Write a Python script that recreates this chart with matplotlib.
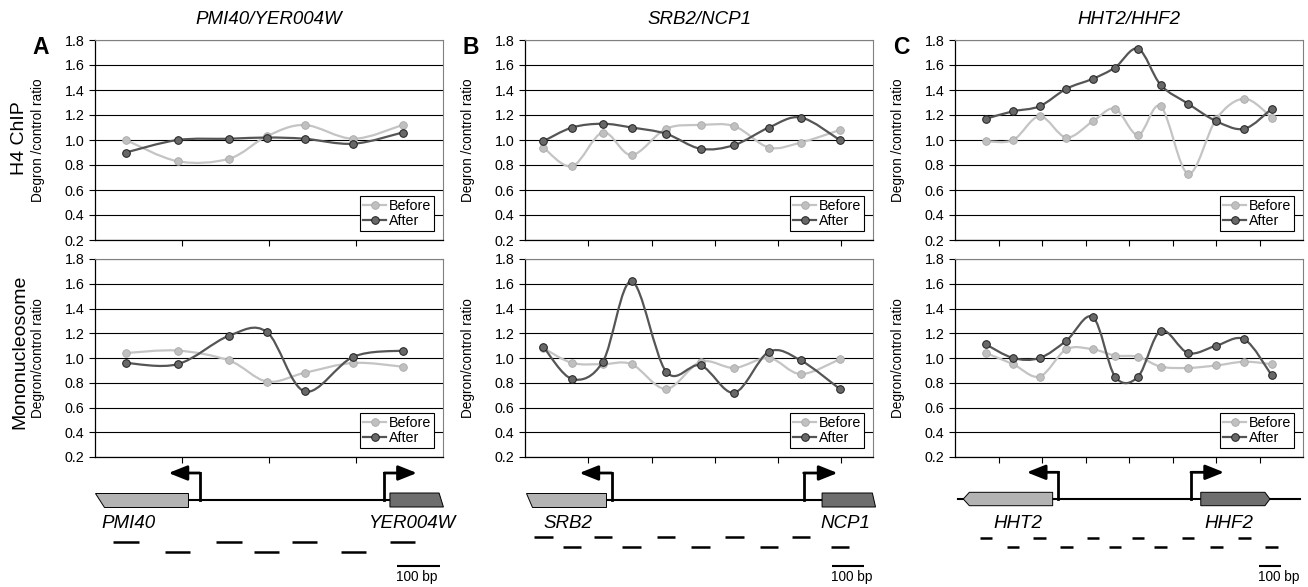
import numpy as np
import matplotlib
matplotlib.use('Agg')
import matplotlib.pyplot as plt
from matplotlib.path import Path
from matplotlib.patches import PathPatch, Polygon
from matplotlib.lines import Line2D

plt.rcParams['font.family'] = ['Liberation Sans', 'DejaVu Sans']

# ---- data (x positions in bp along each locus) ----
a_x = [71, 190, 308, 395, 482, 594, 707]
a_h4_before = [1.00, 0.83, 0.85, 1.03, 1.12, 1.01, 1.12]
a_h4_after = [0.90, 1.00, 1.01, 1.02, 1.01, 0.97, 1.06]
a_mono_before = [1.04, 1.06, 0.98, 0.81, 0.88, 0.96, 0.93]
a_mono_after = [0.96, 0.95, 1.18, 1.21, 0.73, 1.01, 1.06]

b_x = [58, 149, 246, 337, 446, 555, 662, 771, 872, 995]
b_h4_before = [0.94, 0.79, 1.06, 0.88, 1.09, 1.12, 1.11, 0.94, 0.98, 1.08]
b_h4_after = [0.99, 1.10, 1.13, 1.10, 1.05, 0.93, 0.96, 1.10, 1.18, 1.00]
b_mono_before = [1.08, 0.96, 0.95, 0.95, 0.75, 0.97, 0.92, 1.00, 0.87, 0.99]
b_mono_after = [1.09, 0.83, 0.97, 1.62, 0.89, 0.94, 0.72, 1.05, 0.98, 0.75]

c_x = [142, 267, 389, 512, 634, 736, 842, 946, 1072, 1202, 1331, 1456]
c_h4_before = [0.99, 1.00, 1.19, 1.02, 1.15, 1.25, 1.04, 1.27, 0.73, 1.17, 1.33, 1.18]
c_h4_after = [1.17, 1.23, 1.27, 1.41, 1.49, 1.58, 1.73, 1.44, 1.29, 1.15, 1.09, 1.25]
c_mono_before = [1.04, 0.95, 0.85, 1.07, 1.07, 1.02, 1.01, 0.93, 0.92, 0.94, 0.97, 0.95]
c_mono_after = [1.11, 1.00, 1.00, 1.14, 1.33, 0.85, 0.85, 1.22, 1.04, 1.10, 1.15, 0.86]

titles = ['PMI40/YER004W', 'SRB2/NCP1', 'HHT2/HHF2']
letters = ['A', 'B', 'C']
locus_len = [800, 1100, 1600]

# gene names and extents (bp)
gene_left = ['PMI40', 'SRB2', 'HHT2']
gene_right = ['YER004W', 'NCP1', 'HHF2']
left_gene_span = [(0, 214), (3, 256), (38, 449)]
right_gene_span = [(678, 801), (939, 1108), (1130, 1448)]
tss_left = [241, 274, 475]
tss_right = [665, 881, 1085]
arrow_left_tip = [169, 172, 330]
arrow_right_tip = [740, 988, 1237]
label_left_x = [76, 135, 291]
label_right_x = [728, 1013, 1257]
scale_start = [694, 971, 1397]
amplicon_bp = 58

W, H = 1308, 587
fig = plt.figure(figsize=(W / 100, H / 100), dpi=100)


def px_axes(x0, y0, x1, y1):
    return fig.add_axes([x0 / W, 1 - y1 / H, (x1 - x0) / W, (y1 - y0) / H])


def smooth_line(ax, x, y, color, lw, z):
    # Excel-like smoothed line (Catmull-Rom through the points)
    pts = np.column_stack([x, y]).astype(float)
    n = len(pts)
    verts = [pts[0]]
    codes = [Path.MOVETO]
    for i in range(n - 1):
        p0 = pts[max(i - 1, 0)]
        p1 = pts[i]
        p2 = pts[i + 1]
        p3 = pts[min(i + 2, n - 1)]
        verts += [p1 + (p2 - p0) / 6, p2 - (p3 - p1) / 6, p2]
        codes += [Path.CURVE4] * 3
    ax.add_patch(PathPatch(Path(verts, codes), fc='none', ec=color, lw=lw,
                           zorder=z, joinstyle='round', capstyle='round'))


before_line, before_face, before_edge = '#c4c4c4', '#c0c0c0', '#a8a8a8'
after_line, after_face, after_edge = '#555555', '#686868', '#1e1e1e'


def chart(ax, x, before, after, xmax, ylabel):
    ax.set_xlim(0, xmax)
    ax.set_ylim(0.2, 1.8)
    yt = np.arange(0.2, 1.81, 0.2)
    ax.set_yticks(yt)
    ax.set_yticklabels(['%.1f' % v for v in yt], fontsize=10.3)
    ax.set_xticks(np.arange(200, xmax, 200))
    ax.set_xticklabels([])
    ax.tick_params(direction='out', length=4, width=0.8, color='black')
    ax.grid(axis='y', color='black', lw=0.8)
    ax.set_axisbelow(True)
    for s in ['top', 'right']:
        ax.spines[s].set_color('#808080')
        ax.spines[s].set_linewidth(0.8)
    for s in ['left', 'bottom']:
        ax.spines[s].set_linewidth(0.9)

    smooth_line(ax, x, before, before_line, 1.6, 3)
    ax.plot(x, before, 'o', ls='none', ms=5.5, mfc=before_face, mec=before_edge, mew=0.6, zorder=4)
    smooth_line(ax, x, after, after_line, 1.6, 5)
    ax.plot(x, after, 'o', ls='none', ms=5.5, mfc=after_face, mec=after_edge, mew=0.7, zorder=6)

    ax.set_ylabel(ylabel, fontsize=9.8)
    ax.yaxis.set_label_coords(-0.143, 0.5)

    handles = [
        Line2D([], [], color=before_line, lw=1.6, marker='o', ms=5.5, mfc=before_face,
               mec=before_edge, mew=0.6, label='Before'),
        Line2D([], [], color=after_line, lw=1.6, marker='o', ms=5.5, mfc=after_face,
               mec=after_edge, mew=0.7, label='After'),
    ]
    leg = ax.legend(handles=handles, loc='lower right', fontsize=10.3, fancybox=False,
                    edgecolor='black', framealpha=1, handlelength=1.6, handletextpad=0.2,
                    borderpad=0.22, labelspacing=0.08, borderaxespad=0.6)
    leg.get_frame().set_linewidth(0.8)
    leg.set_zorder(10)


lefts = [95, 525, 955]
series = [
    (a_x, a_h4_before, a_h4_after, a_mono_before, a_mono_after),
    (b_x, b_h4_before, b_h4_after, b_mono_before, b_mono_after),
    (c_x, c_h4_before, c_h4_after, c_mono_before, c_mono_after),
]

for i in range(3):
    x0 = lefts[i]
    x, h4b, h4a, mb, ma = series[i]
    L = locus_len[i]

    ax_top = px_axes(x0, 40, x0 + 348, 240)
    chart(ax_top, x, h4b, h4a, L, 'Degron /control ratio')
    ax_bot = px_axes(x0, 259, x0 + 348, 457)
    chart(ax_bot, x, mb, ma, L, 'Degron/control ratio')

    fig.text((x0 + 174) / W, 1 - 19 / H, titles[i], style='italic', fontsize=13.5,
             ha='center', va='center')
    fig.text((x0 - 54) / W, 1 - 47.5 / H, letters[i], fontweight='bold', fontsize=16.5,
             ha='center', va='center')

    # locus diagram (x in bp, y in pixels)
    d = px_axes(x0, 462, x0 + 348, 587)
    d.set_xlim(0, L)
    d.set_ylim(587, 462)
    d.axis('off')

    if i == 2:
        ymid, ytop_g, ybot_g, yarr = 499, 492.3, 505.7, 472.3
        d.plot([14, 1586], [ymid, ymid], color='black', lw=1.5, zorder=1, clip_on=False)
        l0, l1 = left_gene_span[i]
        d.add_patch(Polygon([(l0, ymid), (66, ytop_g), (l1, ytop_g), (l1, ybot_g), (66, ybot_g)],
                            closed=True, fc='#b3b3b3', ec='black', lw=0.7, zorder=2, clip_on=False))
        r0, r1 = right_gene_span[i]
        d.add_patch(Polygon([(r0, ytop_g), (1425, ytop_g), (r1, ymid), (1425, ybot_g), (r0, ybot_g)],
                            closed=True, fc='#6e6e6e', ec='black', lw=0.7, zorder=2, clip_on=False))
        row_y = (537.7, 547.3)
    else:
        ymid, ytop_g, ybot_g, yarr = 500, 493, 507, 473
        l0, l1 = left_gene_span[i]
        r0, r1 = right_gene_span[i]
        d.plot([l1, r0], [ymid, ymid], color='black', lw=1.5, zorder=1)
        d.add_patch(Polygon([(l0, ytop_g), (l1, ytop_g), (l1, ybot_g), (l0 + 20, ybot_g)],
                            closed=True, fc='#b3b3b3', ec='black', lw=0.7, zorder=2, clip_on=False))
        d.add_patch(Polygon([(r0, ytop_g), (r1 - 10, ytop_g), (r1, ybot_g), (r0, ybot_g)],
                            closed=True, fc='#6e6e6e', ec='black', lw=0.7, zorder=2, clip_on=False))
        row_y = (541.7, 551.7) if i == 0 else (537.3, 547.3)

    for vx, tip in [(tss_left[i], arrow_left_tip[i]), (tss_right[i], arrow_right_tip[i])]:
        d.plot([vx, vx], [ymid, yarr], color='black', lw=2, solid_capstyle='projecting', zorder=3)
        d.annotate('', xy=(tip, yarr), xytext=(vx, yarr),
                   arrowprops=dict(arrowstyle='-|>,head_length=0.75,head_width=0.3',
                                   lw=2, color='black', shrinkA=0, shrinkB=0,
                                   mutation_scale=15), zorder=3)

    d.text(label_left_x[i], 523, gene_left[i], style='italic', fontsize=13.5,
           ha='center', va='center')
    d.text(label_right_x[i], 523, gene_right[i], style='italic', fontsize=13.5,
           ha='center', va='center')

    for k, cx in enumerate(x):
        yy = row_y[k % 2]
        d.plot([cx - amplicon_bp / 2, cx + amplicon_bp / 2], [yy, yy], color='black',
               lw=1.8, solid_capstyle='butt', clip_on=False)

    s0 = scale_start[i]
    d.plot([s0, s0 + 100], [565.5, 565.5], color='black', lw=1.5, solid_capstyle='butt',
           clip_on=False)
    d.text(s0 - 3, 577.5, '100 bp', fontsize=9.8, ha='left', va='center')

fig.text(20 / W, 1 - 138 / H, 'H4 ChIP', rotation=90, fontsize=14, ha='center', va='center')
fig.text(20 / W, 1 - 352 / H, 'Mononucleosome', rotation=90, fontsize=14,
         ha='center', va='center')

fig.savefig('out.png', dpi=100)
